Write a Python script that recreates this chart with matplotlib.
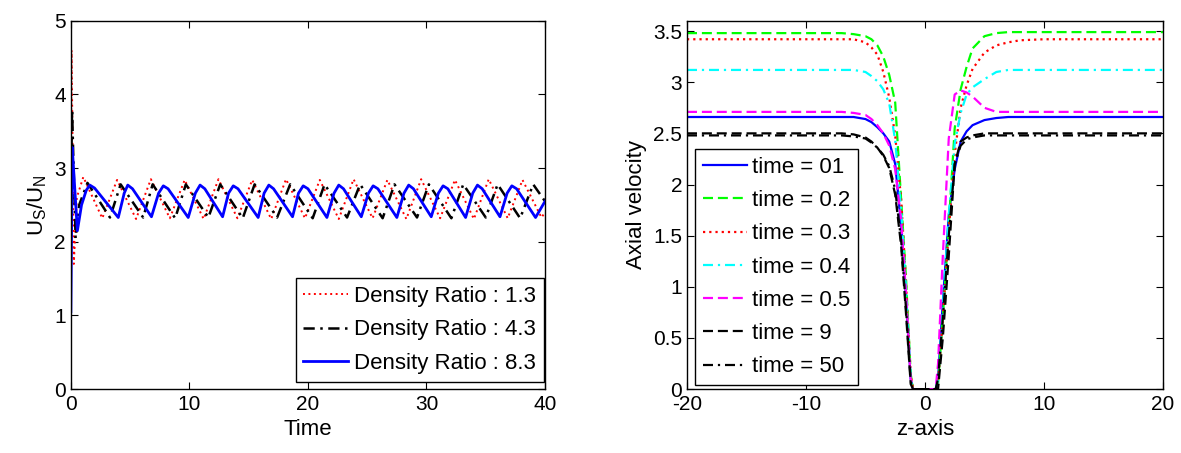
import matplotlib.pyplot as plt

plt.rcParams.update({
    'font.family': 'Liberation Sans',
    'font.size': 15,
    'mathtext.fontset': 'custom',
    'mathtext.rm': 'Liberation Sans',
    'mathtext.it': 'Liberation Sans',
    'axes.unicode_minus': False,
    'axes.linewidth': 1.0,
    'xtick.direction': 'in',
    'ytick.direction': 'in',
    'xtick.top': True,
    'ytick.right': True,
    'xtick.major.size': 5,
    'ytick.major.size': 5,
    'xtick.major.pad': 4,
    'legend.fontsize': 16,
    'lines.dashed_pattern': [4.5, 2.2],
    'lines.dotted_pattern': [1, 1.8],
    'lines.dashdot_pattern': [4.5, 2.2, 1, 2.2],
})

# ---- left panel: U_S/U_N vs time ----
t_red = [0, 0.06, 0.25, 0.5, 1.05, 2.65, 3.9, 5.5, 6.75, 8.35, 9.6, 11.2, 12.45, 14.05, 15.3,
         16.9, 18.15, 19.75, 21.0, 22.6, 23.85, 25.45, 26.7, 28.3, 29.55, 31.15, 32.4, 34.0,
         35.25, 36.85, 38.1, 39.7, 40.0]
v_red = [2.9, 4.6, 1.7, 2.6, 2.88, 2.32, 2.84, 2.31, 2.85, 2.32, 2.84, 2.31, 2.85, 2.32, 2.84,
         2.31, 2.85, 2.32, 2.84, 2.31, 2.85, 2.32, 2.84, 2.31, 2.85, 2.32, 2.84, 2.31,
         2.85, 2.32, 2.84, 2.33, 2.4]

t_black = [0, 0.1, 0.25, 0.4, 0.7, 1.4, 3.3, 4.2, 6.1, 6.9, 8.8, 9.7, 11.6, 12.6, 14.5, 15.5,
           17.4, 18.5, 20.4, 21.4, 23.3, 24.4, 26.3, 27.3, 29.2, 30.2, 32.1, 33.1, 35.0, 36.0,
           37.9, 39.0, 40.0]
v_black = [2.6, 3.8, 2.9, 2.05, 2.5, 2.8, 2.33, 2.78, 2.33, 2.78, 2.32, 2.78, 2.33, 2.78, 2.32, 2.78,
           2.33, 2.78, 2.32, 2.78, 2.33, 2.78, 2.32, 2.78, 2.33, 2.78, 2.32, 2.78, 2.33, 2.78,
           2.32, 2.78, 2.55]

t_blue = [0, 0.12, 0.3, 0.55, 0.9, 1.3, 1.6, 2.0,
          4.0, 4.5, 4.8, 5.2, 6.8, 7.4, 7.8, 8.2, 9.9, 10.5, 10.9, 11.3,
          12.8, 13.3, 13.7, 14.1, 15.8, 16.3, 16.7, 17.1, 18.7, 19.2, 19.6, 20.0,
          21.6, 22.2, 22.6, 23.0, 24.5, 25.1, 25.5, 25.9, 27.5, 28.1, 28.5, 28.9,
          30.4, 31.0, 31.4, 31.8, 33.3, 33.9, 34.3, 34.7, 36.2, 36.8, 37.2, 37.6,
          39.2, 40.0]
v_blue = [1.05, 3.28, 2.8, 2.15, 2.5, 2.7, 2.77, 2.73,
          2.33, 2.66, 2.77, 2.72, 2.34, 2.66, 2.76, 2.72, 2.33, 2.66, 2.77, 2.72,
          2.34, 2.66, 2.76, 2.72, 2.33, 2.66, 2.77, 2.72, 2.34, 2.66, 2.76, 2.72,
          2.33, 2.66, 2.77, 2.72, 2.34, 2.66, 2.76, 2.72, 2.33, 2.66, 2.77, 2.72,
          2.34, 2.66, 2.76, 2.72, 2.33, 2.66, 2.77, 2.72, 2.34, 2.66, 2.76, 2.72,
          2.33, 2.55]

density_labels = ['Density Ratio : 1.3', 'Density Ratio : 4.3', 'Density Ratio : 8.3']

# ---- right panel: axial velocity vs z ----
z = [-20, -10, -7, -6, -5, -4.5, -4, -3.5, -3, -2.5, -2, -1.6, -1.2, -1.0,
     0.9, 1.1, 1.5, 2.0, 2.5, 3.0, 3.5, 4.0, 5.0, 6.0, 7.0, 8.0, 10, 20]

vel_01 = [2.66, 2.66, 2.66, 2.66, 2.64, 2.61, 2.56, 2.50, 2.42, 2.2, 1.6, 0.9, 0.1, 0,
          0, 0.1, 0.85, 1.7, 2.15, 2.42, 2.52, 2.58, 2.63, 2.65, 2.66, 2.66, 2.66, 2.66]
vel_02 = [3.48, 3.48, 3.48, 3.47, 3.45, 3.42, 3.36, 3.25, 3.07, 2.8, 1.85, 1.1, 0.15, 0,
          0, 0.05, 0.7, 1.6, 2.55, 2.93, 3.15, 3.33, 3.45, 3.48, 3.49, 3.49, 3.49, 3.49]
vel_03 = [3.42, 3.42, 3.42, 3.42, 3.39, 3.34, 3.27, 3.1, 2.85, 2.48, 1.85, 1.05, 0.15, 0,
          0, 0.05, 0.7, 1.55, 2.3, 2.75, 2.97, 3.13, 3.29, 3.36, 3.39, 3.41, 3.42, 3.42]
vel_04 = [3.12, 3.12, 3.12, 3.12, 3.1, 3.06, 3.01, 2.93, 2.79, 2.43, 1.75, 1.0, 0.12, 0,
          0, 0.08, 0.8, 1.7, 2.4, 2.7, 2.88, 2.95, 3.03, 3.1, 3.12, 3.12, 3.12, 3.12]
vel_05 = [2.71, 2.71, 2.71, 2.7, 2.68, 2.64, 2.58, 2.5, 2.38, 2.15, 1.65, 0.95, 0.1, 0,
          0, 0.25, 1.3, 2.45, 2.88, 2.92, 2.9, 2.86, 2.75, 2.71, 2.71, 2.71, 2.71, 2.71]
vel_9 = [2.5, 2.5, 2.5, 2.49, 2.46, 2.42, 2.36, 2.28, 2.16, 1.9, 1.4, 0.75, 0.05, 0,
         0, 0, 0.5, 1.3, 2.2, 2.42, 2.46, 2.48, 2.5, 2.5, 2.5, 2.5, 2.5, 2.5]
vel_50 = [2.48, 2.48, 2.48, 2.47, 2.45, 2.41, 2.36, 2.29, 2.18, 1.95, 1.45, 0.8, 0.08, 0,
          0, 0.1, 0.7, 1.5, 2.2, 2.38, 2.44, 2.46, 2.48, 2.48, 2.48, 2.48, 2.48, 2.48]

time_labels = ['time = 01', 'time = 0.2', 'time = 0.3', 'time = 0.4', 'time = 0.5', 'time = 9', 'time = 50']

fig = plt.figure(figsize=(11.81, 4.53), dpi=100)
ax1 = fig.add_axes([0.060, 0.141, 0.4015, 0.813])
ax2 = fig.add_axes([0.5817, 0.141, 0.403, 0.813])

ax1.plot(t_red, v_red, color=(1, 0, 0), linestyle=':', linewidth=1.4, label=density_labels[0])
ax1.plot(t_black, v_black, color='k', linestyle='-.', linewidth=1.8, label=density_labels[1])
ax1.plot(t_blue, v_blue, color=(0, 0, 1), linestyle='-', linewidth=2.0, label=density_labels[2])
ax1.set_xlim(0, 40)
ax1.set_ylim(0, 5)
ax1.set_xticks([0, 10, 20, 30, 40])
ax1.set_yticks([0, 1, 2, 3, 4, 5])
ax1.set_xlabel('Time', fontsize=16)
ax1.set_ylabel(r'U$_\mathrm{S}$/U$_\mathrm{N}$', fontsize=16)
ax1.legend(loc='lower right', bbox_to_anchor=(0.997, 0.02), borderaxespad=0,
           fancybox=False, edgecolor='k', framealpha=1, handlelength=2.0,
           handletextpad=0.27, labelspacing=0.57, borderpad=0.35)

series = [(vel_01, (0, 0, 1), '-'), (vel_02, (0, 1, 0), '--'), (vel_03, (1, 0, 0), ':'),
          (vel_04, (0, 1, 1), '-.'), (vel_05, (1, 0, 1), '--'), (vel_9, 'k', '--'), (vel_50, 'k', '-.')]
for (vel, col, ls), lab in zip(series, time_labels):
    ax2.plot(z, vel, color=col, linestyle=ls, linewidth=1.6, label=lab)
ax2.set_xlim(-20, 20)
ax2.set_ylim(0, 3.6)
ax2.set_xticks([-20, -10, 0, 10, 20])
ax2.set_yticks([0, 0.5, 1, 1.5, 2, 2.5, 3, 3.5])
ax2.set_yticklabels(['0', '0.5', '1', '1.5', '2', '2.5', '3', '3.5'])
ax2.set_xlabel('z-axis', fontsize=16)
ax2.set_ylabel('Axial velocity', fontsize=16)
ax2.legend(loc='lower left', bbox_to_anchor=(0.017, 0.011), borderaxespad=0,
           fancybox=False, edgecolor='k', framealpha=1, handlelength=2.0,
           handletextpad=0.2, labelspacing=0.55, borderpad=0.35)

fig.savefig('out.png', dpi=100)
